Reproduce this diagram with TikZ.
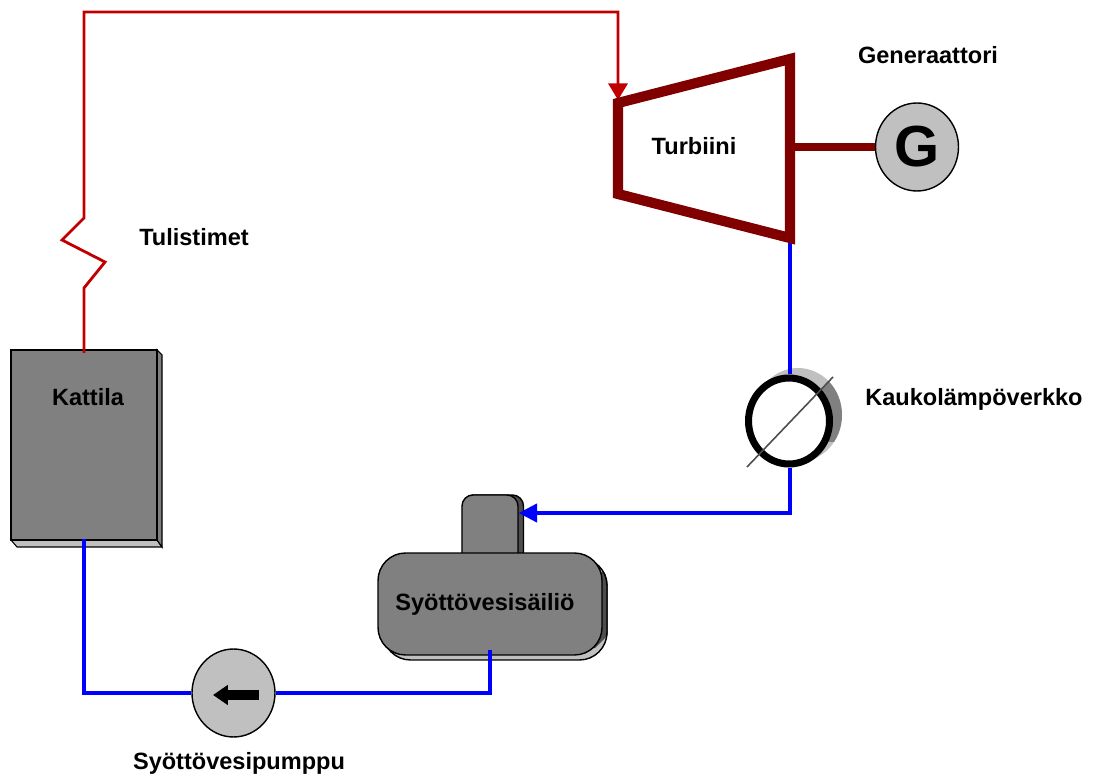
\documentclass[tikz,border=0pt]{standalone}
\usepackage{fontspec}
\setmainfont{Liberation Sans}
\usetikzlibrary{arrows.meta,shapes.geometric}
\definecolor{SteamRed}{RGB}{192,0,0}
\definecolor{WaterBlue}{RGB}{0,0,255}
\definecolor{TurbineRed}{RGB}{128,0,0}
\definecolor{BodyGray}{RGB}{128,128,128}
\definecolor{DarkGray}{RGB}{77,77,77}
\definecolor{LightGray}{RGB}{192,192,192}
\tikzset{
  steam/.style={draw=SteamRed,line width=1.6pt},
  water/.style={draw=WaterBlue,line width=1.8pt},
  heavy/.style={draw=TurbineRed,line width=5.8pt},
  label/.style={font=\fontsize{13.4}{15}\selectfont\bfseries,inner sep=0pt},
  vessel/.style={draw=black,fill=BodyGray,line width=0.8pt,inner sep=0pt},
  machine/.style={ellipse,draw=black,fill=LightGray,line width=0.8pt,inner sep=0pt,
    minimum width=1.66cm,minimum height=1.76cm}
}
\begin{document}
\begin{tikzpicture}[x=0.02cm,y=-0.02cm]
  \useasboundingbox (0,0) rectangle (1099,776);

  % boiler
  \draw[black,line width=0.6pt,fill=LightGray] (11,540) -- (157,540) -- (162,547) -- (17,547) -- cycle;
  \draw[black,line width=0.6pt,fill=BodyGray] (157,350) -- (162,355) -- (162,547) -- (157,540) -- cycle;
  \node[vessel,minimum width=2.92cm,minimum height=3.8cm] (kattila) at (84,445) {};
  \node[label] (kattilatext) at (88,397) {Kattila};

  % feed water tank
  \node[vessel,fill=DarkGray,rounded corners=0.22cm,minimum width=1.22cm,minimum height=1.4cm] (kaulavarjo) at (493,530) {};
  \node[vessel,rounded corners=0.22cm,minimum width=1.12cm,minimum height=1.4cm] (kaula) at (490,530) {};
  \node[vessel,fill=LightGray,rounded corners=0.55cm,minimum width=4.48cm,minimum height=2.04cm] (sailiovarjo) at (495,609) {};
  \begin{scope}
    \clip (590,572) -- (620,572) -- (620,623) -- (595,648) -- (590,648) -- cycle;
    \node[vessel,fill=DarkGray,rounded corners=0.55cm,minimum width=4.48cm,minimum height=2.04cm] (sailiotumma) at (495,609) {};
  \end{scope}
  \node[vessel,rounded corners=0.55cm,minimum width=4.48cm,minimum height=2.04cm] (sailio) at (490,604) {};
  \node[label] (sailiotext) at (485,604) {Syöttövesisäiliö};

  % heat exchanger
  \node[ellipse,fill=LightGray,inner sep=0pt,minimum width=1.76cm,minimum height=1.88cm] (verkkovarjo) at (798,415) {};
  \begin{scope}
    \clip (747,467) -- (833,377) -- (860,377) -- (860,442) -- (747,442) -- cycle;
    \node[ellipse,fill=BodyGray,inner sep=0pt,minimum width=1.76cm,minimum height=1.88cm] (verkkotumma) at (798,415) {};
  \end{scope}
  \node[ellipse,draw=black,fill=white,line width=4pt,inner sep=0pt,
    minimum width=1.62cm,minimum height=1.72cm] (verkko) at (789,421) {};
  \coordinate (vinoala) at (747,467);
  \coordinate (vinoyla) at (833,377);
  \draw[DarkGray,line width=0.9pt] (vinoala) -- (vinoyla);

  % pump and generator
  \node[machine] (pumppu) at (233.5,693) {};
  \coordinate (nuolialku) at (259,695);
  \coordinate (nuolikarki) at (213,695);
  \draw[line width=5.6pt,-{Triangle[length=8.5pt,width=11pt]}] (nuolialku) -- (nuolikarki);
  \node[machine,font=\fontsize{33}{33}\selectfont\bfseries] (generaattori) at (917,147) {G};

  % steam line
  \coordinate (mutka1) at (84,288);
  \coordinate (mutka2) at (105,262);
  \coordinate (mutka3) at (62,240);
  \coordinate (mutka4) at (84,218);
  \coordinate (ylavasen) at (84,12);
  \coordinate (ylaoikea) at (618,12);
  \coordinate (turbiiniylos) at (618,100);
  \draw[steam,shorten <=-2pt,-{Triangle[length=9.5pt,width=11pt]}] (kattila.north) -- (mutka1) -- (mutka2) -- (mutka3)
    -- (mutka4) -- (ylavasen) -- (ylaoikea) -- (turbiiniylos);

  % turbine
  \coordinate (t1) at (618,103);
  \coordinate (t2) at (790,59);
  \coordinate (t3) at (790,238);
  \coordinate (t4) at (618,194);
  \coordinate (akseli) at (790,147);
  \coordinate (poisto) at (790,243);
  \draw[water] (poisto) -- (verkko.north -| poisto);
  \draw[heavy] (t1) -- (t2) -- (t3) -- (t4) -- cycle;
  \draw[heavy,line width=5pt] (akseli) -- (generaattori.west);
  \node[label] (turbiini) at (694,146) {Turbiini};

  % water lines
  \coordinate (kulma1) at (790,513);
  \coordinate (kulma2) at (490,693);
  \coordinate (kulma3) at (84,693);
  \draw[water,-{Triangle[length=10.5pt,width=10.5pt]}] (verkko.south -| kulma1) -- (kulma1) -- (kaula.east |- kulma1);
  \draw[water,shorten <=-3pt] (sailio.south) -- (kulma2) -- (pumppu.east);
  \draw[water,shorten >=-1pt] (pumppu.west) -- (kulma3) -- (kattila.south);

  \node[label] (tulistimet) at (194,237) {Tulistimet};
  \node[label] (generaattoritext) at (928,55) {Generaattori};
  \node[label] (verkkotext) at (974,399) {Kaukolämpöverkko};
  \node[label] (pumpputext) at (239,763) {Syöttövesipumppu};
\end{tikzpicture}
\end{document}
